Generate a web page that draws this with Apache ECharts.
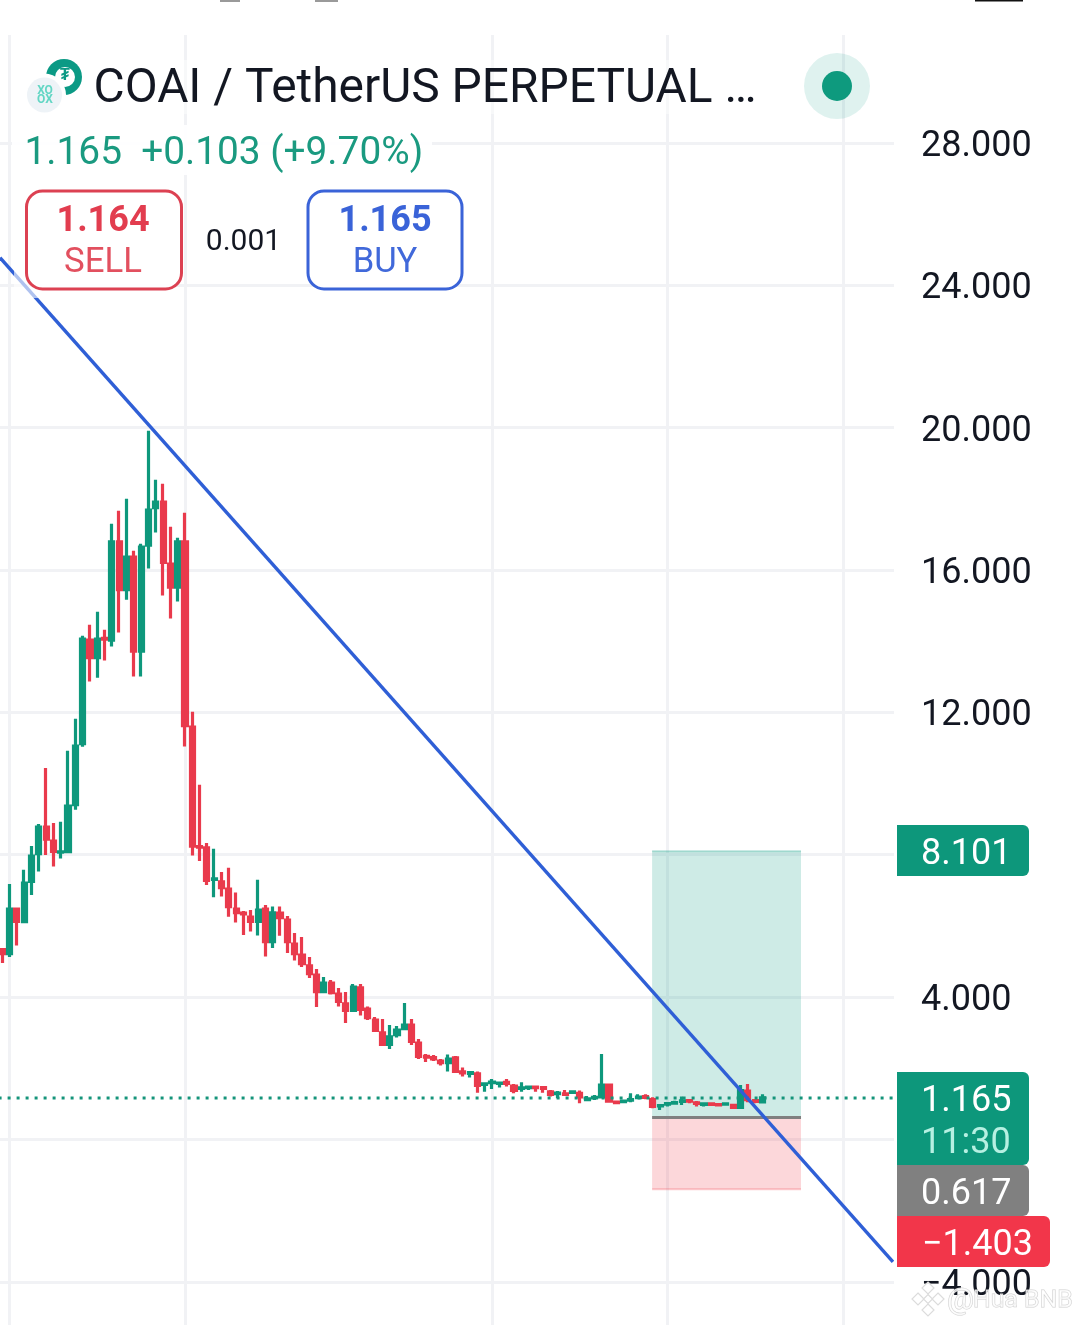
<!DOCTYPE html>
<html><head><meta charset="utf-8">
<style>html,body{margin:0;padding:0;background:#fff}#c{width:1080px;height:1325px}</style>
<script src="https://cdn.jsdelivr.net/npm/echarts@6/dist/echarts.min.js"></script>
</head><body><div id="c"></div>
<script>
const opens=[5.337,5.222,6.470,6.122,7.254,8.033,8.775,8.381,8.07,8.089,9.410,11.124,14.031,13.541,14.08,14.028,16.793,15.453,16.363,13.719,16.698,17.757,17.909,16.167,15.517,16.793,11.585,8.23,8.193,7.31,7.237,7.032,6.470,6.36,6.245,6.130,6.470,5.559,6.358,6.161,5.486,5.177,4.876,4.615,4.154,4.390,4.081,3.808,3.628,4.258,3.659,3.350,2.993,2.673,2.946,3.114,3.210,2.704,2.333,2.296,2.201,2.159,2.291,1.897,1.858,1.841,1.546,1.594,1.571,1.602,1.495,1.436,1.453,1.470,1.453,1.335,1.284,1.284,1.318,1.298,1.121,1.166,1.195,1.523,1.048,1.060,1.105,1.172,1.206,1.121,0.942,0.992,1.020,1.068,1.093,1.026,0.987,0.998,0.981,0.992,0.956,0.902,1.355,1.093,1.054];
const closes=[5.222,6.470,6.130,7.201,7.960,8.775,8.435,8.097,8.08,9.365,11.051,14.059,13.541,14.059,14.06,16.793,15.453,16.363,13.719,16.644,17.684,17.909,16.212,15.517,16.793,11.630,8.238,8.21,7.282,7.32,7.077,6.543,6.374,6.34,6.130,6.442,5.559,6.366,6.234,5.559,5.222,4.941,4.660,4.154,4.390,4.126,3.881,3.628,4.278,3.657,3.423,3.066,2.673,2.881,3.069,3.210,2.757,2.336,2.313,2.265,2.156,2.254,1.914,1.872,1.880,1.521,1.560,1.610,1.582,1.574,1.380,1.447,1.470,1.453,1.436,1.268,1.301,1.268,1.335,1.195,1.138,1.180,1.523,1.076,1.031,1.074,1.121,1.189,1.183,0.930,0.953,1.009,1.037,1.082,1.076,1.009,0.998,0.987,0.970,1.003,0.899,1.374,1.119,1.065,1.165];
const lows=[4.961,5.129,5.447,6.085,6.872,7.527,7.996,7.667,7.892,8.052,9.261,11.032,12.867,12.971,13.457,13.851,14.244,15.163,13.007,13.007,16.043,17.055,15.284,14.638,15.115,11.040,7.976,7.827,7.153,6.802,6.824,6.254,6.093,5.748,5.840,5.728,5.138,5.382,5.720,5.242,5.025,4.848,4.539,3.724,4.118,4.070,3.733,3.274,3.592,3.479,3.359,3.030,2.636,2.544,2.861,3.078,2.656,2.263,2.178,2.206,2.074,1.906,1.869,1.765,1.737,1.315,1.343,1.419,1.456,1.484,1.298,1.343,1.391,1.343,1.315,1.203,1.158,1.223,1.298,1.017,1.090,1.110,1.158,1.034,0.989,1.034,1.046,1.138,1.130,0.877,0.829,0.922,0.989,0.970,1.017,0.922,0.922,0.956,0.922,0.970,0.866,0.866,1.046,1.017,1.017];
const highs=[5.382,7.181,6.506,7.575,8.249,8.867,10.441,8.895,8.924,10.919,11.819,14.151,14.461,14.826,14.320,17.299,17.665,18.002,16.540,16.737,19.913,18.536,18.424,17.215,16.906,17.608,12.015,9.964,8.333,8.165,7.518,7.631,6.937,6.422,6.450,7.294,6.591,6.543,6.543,6.282,5.804,5.691,5.129,4.792,4.567,4.483,4.258,4.146,4.370,4.370,3.733,3.443,3.387,3.218,3.190,3.836,3.387,2.825,2.403,2.375,2.263,2.383,2.347,2.018,1.906,1.906,1.596,1.700,1.616,1.700,1.560,1.608,1.504,1.504,1.484,1.391,1.363,1.391,1.355,1.372,1.223,1.251,2.403,1.560,1.082,1.096,1.298,1.270,1.270,1.186,0.970,1.040,1.090,1.203,1.138,1.082,1.017,1.017,1.017,1.017,0.989,1.532,1.560,1.138,1.270];
const yTicks={min:-8,max:32,interval:4};
const slotCount=123;
const sessionBreaks=[0.92,25,67,91,115];
const trendX=[-0.31,121.85];
const trendY=[24.777,-3.443];
const lastPrice=1.165;
const takeProfit=8.101;
const entryPrice=0.617;
const stopLoss=-1.403;
const zoneX=[88.9,109.27];

const UP='#0e987c',DOWN='#e93a4c',TAGUP='#0d977b',TAGDOWN='#f2364a',BLUE='#2f5fd6',GRID='#f1f2f5';
const categories=Array.from({length:slotCount},(_,i)=>String(i));
const candles=opens.map((o,i)=>[o,closes[i],lows[i],highs[i]]);
const F=(w,s)=>w+' '+s+'px Roboto, "Liberation Sans", sans-serif';
const T=(text,x,y,fill,font,align,extra)=>({type:'text',z:120,silent:true,style:Object.assign({text,x,y,fill,font,textAlign:align||'left',textVerticalAlign:'middle'},extra||{})});
const R=(x,y,w,h,fill,r,z,extra)=>({type:'rect',z:z||110,silent:true,shape:{x,y,width:w,height:h,r:r||0},style:Object.assign({fill},extra||{})});
const C=(cx,cy,r,fill,z)=>({type:'circle',z:z||115,silent:true,shape:{cx,cy,r},style:{fill}});
const D=(cx,cy,h,z)=>({type:'polygon',z:z||125,silent:true,shape:{points:[[cx,cy-h],[cx+h,cy],[cx,cy+h],[cx-h,cy]]},style:{fill:'rgba(255,255,255,.85)',stroke:'#dcdcdc',lineWidth:1.2}});
const graphics=[
  R(0,0,1080,35,'#fff',0,100),
  R(894,0,4,1325,'#fff',0,100),
  R(220,0,20,2,'#9a9a9a',0,101),R(315,0,23,2,'#9a9a9a',0,101),R(975,0,48,1.5,'#111',0,101),
  R(22,60,745,54,'rgba(255,255,255,.45)',0,105),
  R(12,125,420,50,'rgba(255,255,255,.92)',0,105),
  R(14,268,26,30,'rgba(255,255,255,.62)',0,106),
  // header
  C(64,77,18,'#0b9a85',112),
  C(65,77,10,'#fff',112.5),
  T('₮',65,76,'#0b9a85',F(700,16),'center',{z:120}),
  C(44.5,95,21.5,'#fff',113),
  C(44.5,95,17.5,'#eef3f7',114),
  T('XO',45,91,'#63d6c4',F(700,12),'center'),
  T('OX',45,100,'#63d6c4',F(700,12),'center'),
  T('COAI / TetherUS PERPETUAL …',93.5,90,'#131722',F(400,47.9)),
  T('1.165  +0.103 (+9.70%)',24.5,154,'#1a9a80',F(400,38.8)),
  R(26.5,191,155,98,'rgba(255,255,255,.92)',16,110,{stroke:'#dc4152',lineWidth:3}),
  T('1.164',103,222,'#e23d4f',F(700,36),'center'),
  T('SELL',103,263,'#e2505f',F(400,34.8),'center'),
  T('0.001',243.5,242,'#131722',F(400,30),'center'),
  R(308,191,154,98,'rgba(255,255,255,.92)',16,110,{stroke:'#3a63d8',lineWidth:3}),
  T('1.165',385,222,'#3a63d8',F(700,36),'center'),
  T('BUY',385,263,'#4169da',F(400,34.6),'center'),
  C(837,86,33,'rgba(8,153,129,.13)',112),
  C(837,86,15,'#0e9a7e',113),
  // price tags
  R(897,825,132,51,TAGUP,[0,6,6,0]),
  T('8.101',921,855,'#fff',F(400,36)),
  R(897,1072,132,93,TAGUP,[0,6,6,0]),
  T('1.165',921,1102,'#fff',F(400,36)),
  T('11:30',921,1144,'#b6f0e2',F(400,36)),
  R(897,1165,132,51,'#808080',[0,6,6,0]),
  T('0.617',921,1194.5,'#fff',F(400,36)),
  R(897,1216,153,51,TAGDOWN,[0,6,6,0],111),
  T('−1.403',922,1245.5,'#fff',F(400,36)),
  // watermark
  D(928,1288,6),D(918,1299,6),D(938,1299,6),D(928,1310,6),D(928,1299,4.5),
  T('@',947,1301,'rgba(255,255,255,.75)',F(400,30),'left',{stroke:'#cfcfcf',lineWidth:1,z:125}),
  T('Hua BNB',973,1301,'rgba(255,255,255,.7)',F(400,24.8),'left',{stroke:'#cfcfcf',lineWidth:1,z:125})
];
const chart=echarts.init(document.getElementById('c'),null,{renderer:'canvas',width:1080,height:1325});
chart.setOption({
  animation:false,
  backgroundColor:'#fff',
  graphic:graphics,
  grid:{left:-1.4,top:0.7,width:899.13,height:1423.4,containLabel:false,outerBoundsMode:'none'},
  xAxis:[
    {type:'category',data:categories,show:false,boundaryGap:true},
    {type:'value',min:-0.5,max:slotCount-0.5,show:false,splitLine:{show:false}}
  ],
  yAxis:{type:'value',position:'right',min:yTicks.min,max:yTicks.max,interval:yTicks.interval,
    axisLine:{show:false},axisTick:{show:false},
    splitLine:{show:true,lineStyle:{color:GRID,width:3}},
    axisLabel:{show:true,margin:23.3,verticalAlign:'top',lineHeight:8,color:'#131722',fontSize:36,fontFamily:'Roboto',align:'left',
      formatter:v=>v.toFixed(3).replace('-','−')}},
  series:[
    {type:'line',name:'sessions',xAxisIndex:1,z:1,data:[[0,0]],symbol:'none',lineStyle:{width:0},silent:true,
      markLine:{silent:true,z:1,symbol:'none',label:{show:false},lineStyle:{color:GRID,width:3,type:'solid'},
        data:sessionBreaks.map(v=>({xAxis:v}))}},
    {type:'line',name:'entry',xAxisIndex:1,z:2,data:[[zoneX[0],entryPrice],[zoneX[1],entryPrice]],symbol:'none',
      lineStyle:{color:'#808080',width:3},silent:true,
      markArea:{silent:true,z:2,data:[
        [{coord:[zoneX[0],takeProfit],itemStyle:{color:'rgba(8,153,129,0.2)'}},{coord:[zoneX[1],entryPrice]}],
        [{coord:[zoneX[0],entryPrice],itemStyle:{color:'rgba(242,54,69,0.2)'}},{coord:[zoneX[1],stopLoss]}]
      ]}},
    {type:'line',name:'target',xAxisIndex:1,z:2,data:[[zoneX[0],takeProfit],[zoneX[1],takeProfit]],symbol:'none',silent:true,
      lineStyle:{color:'rgba(8,153,129,0.28)',width:2}},
    {type:'line',name:'stop',xAxisIndex:1,z:2,data:[[zoneX[0],stopLoss],[zoneX[1],stopLoss]],symbol:'none',silent:true,
      lineStyle:{color:'rgba(242,54,69,0.25)',width:2}},
    {type:'candlestick',name:'COAI',z:3,barWidth:4.6,data:candles,silent:true,
      itemStyle:{color:UP,color0:DOWN,borderColor:UP,borderColor0:DOWN,borderWidth:3.2}},
    {type:'line',name:'last',xAxisIndex:1,z:4,data:[[-0.5,lastPrice],[slotCount-0.5,lastPrice]],symbol:'none',silent:true,
      lineStyle:{color:'#14947a',width:3,type:[3,6]}},
    {type:'line',name:'trend',xAxisIndex:1,z:5,data:trendX.map((x,i)=>[x,trendY[i]]),symbol:'none',silent:true,
      lineStyle:{color:BLUE,width:3.4}}
  ]
});
</script></body></html>
